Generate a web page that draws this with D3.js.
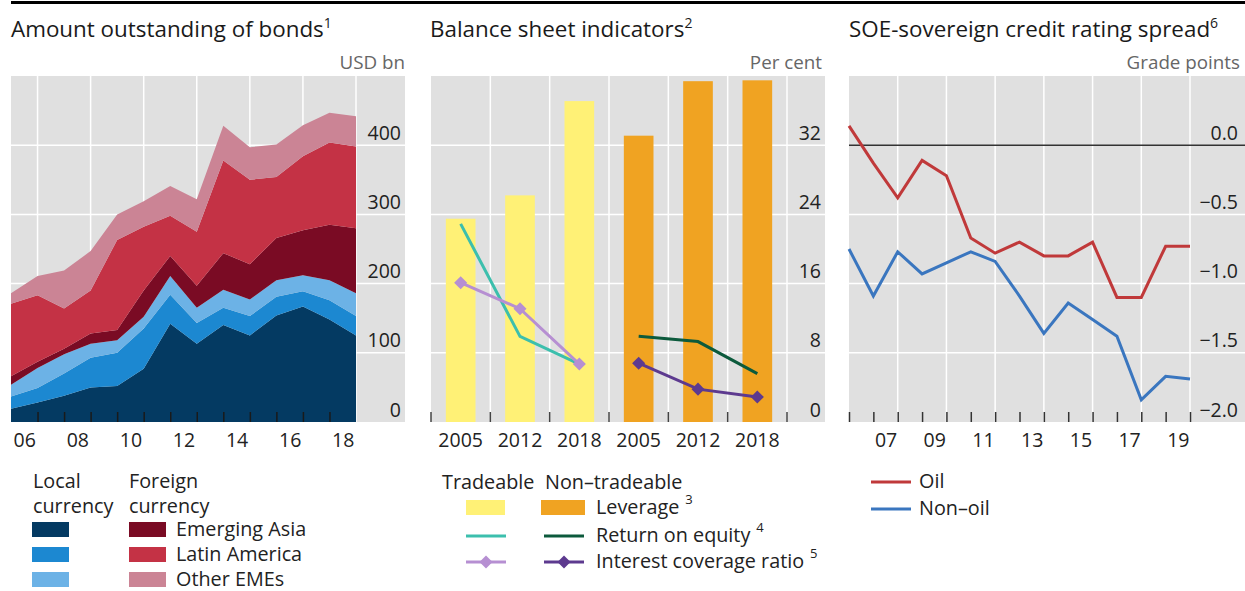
<!DOCTYPE html>
<html>
<head>
<meta charset="utf-8">
<script src="https://cdn.jsdelivr.net/npm/d3@7"></script>
<style>
  body { margin: 0; background: #fff; }
  svg { font-family: "Open Sans", "Noto Sans", sans-serif; }
</style>
</head>
<body>
<div id="chart"></div>
<script>
// ---- panel 1 : amount outstanding of bonds (USD bn), end-of-year points
var bondDates = [2006, 2007, 2008, 2009, 2010, 2011, 2012, 2013, 2014, 2015, 2016, 2017, 2018, 2019];
var localDark  = [19, 28, 38, 50, 52, 77, 142, 113, 140, 125, 154, 167, 148, 125];
var localMid   = [18, 21, 32, 43, 48, 58, 42, 30, 25, 28, 27, 22, 28, 28];
var localLight = [17, 29, 28, 20, 18, 17, 27, 22, 26, 24, 24, 23, 29, 33];
var emAsia     = [12, 9, 8, 15, 15, 38, 29, 32, 53, 51, 61, 65, 80, 94];
var latAm      = [105, 96, 58, 62, 130, 92, 58, 78, 134, 122, 88, 107, 119, 118];
var otherEME   = [15, 28, 55, 57, 37, 37, 43, 47, 50, 47, 47, 45, 43, 44];
var bondLabelPos = [2006.5, 2008.5, 2010.5, 2012.5, 2014.5, 2016.5, 2018.5];
var bondLabels = ["06", "08", "10", "12", "14", "16", "18"];
var bondYTicks = [0, 100, 200, 300, 400];

// ---- panel 2 : balance sheet indicators (per cent)
var bsKeys = ["t2005", "t2012", "t2018", "n2005", "n2012", "n2018"];
var bsLabels = ["2005", "2012", "2018", "2005", "2012", "2018"];
var tradLeverage = [23.5, 26.2, 37.1];
var nonTradLeverage = [33.1, 39.4, 39.5];
var tradROE = [22.9, 9.9, 6.7];
var nonTradROE = [9.9, 9.3, 5.6];
var tradICR = [16.1, 13.1, 6.7];
var nonTradICR = [6.8, 3.8, 2.9];
var bsYTicks = [0, 8, 16, 24, 32];

// ---- panel 3 : SOE-sovereign credit rating spread (grade points)
var spreadDates = [2006, 2007, 2008, 2009, 2010, 2011, 2012, 2013, 2014, 2015, 2016, 2017, 2018, 2019, 2020];
var oil    = [0.14, -0.13, -0.38, -0.11, -0.22, -0.67, -0.78, -0.70, -0.80, -0.80, -0.70, -1.10, -1.10, -0.73, -0.73];
var nonOil = [-0.75, -1.09, -0.77, -0.93, -0.85, -0.77, -0.84, -1.09, -1.36, -1.14, -1.26, -1.38, -1.84, -1.67, -1.69];
var spreadLabelPos = [2007.5, 2009.5, 2011.5, 2013.5, 2015.5, 2017.5, 2019.5];
var spreadLabels = ["07", "09", "11", "13", "15", "17", "19"];
var spreadYTicks = [0, -0.5, -1, -1.5, -2];

var W = 1245, H = 591;
var TOP = 76, BOTTOM = 422;
var BG = "#e0e0e0";
var TEXT = "#222";
var LEG_SIZE = 19.8;

var svg = d3.select("#chart").append("svg")
    .attr("width", W)
    .attr("height", H);

svg.append("line")
    .attr("x1", 11).attr("x2", W)
    .attr("y1", 2.5).attr("y2", 2.5)
    .attr("stroke", "#000")
    .attr("stroke-width", 3);

function title(x, txt, sup) {
  var t = svg.append("text")
      .attr("x", x).attr("y", 37)
      .attr("font-size", 22.4)
      .attr("fill", "#1a1a1a")
      .text(txt);
  t.append("tspan").attr("font-size", 14).attr("dy", -9).text(sup);
}

function units(x, txt) {
  svg.append("text")
      .attr("x", x).attr("y", 69)
      .attr("text-anchor", "end")
      .attr("font-size", 18.8)
      .attr("fill", "#666")
      .text(txt);
}

function background(x0, x1) {
  svg.append("rect")
      .attr("x", x0).attr("y", TOP)
      .attr("width", x1 - x0).attr("height", BOTTOM - TOP)
      .attr("fill", BG);
}

function hGrid(x0, x1, ys) {
  svg.append("g").selectAll("line")
    .data(ys)
    .enter().append("line")
      .attr("x1", x0).attr("x2", x1)
      .attr("y1", function(d) { return d; })
      .attr("y2", function(d) { return d; })
      .attr("stroke", "#fff")
      .attr("stroke-width", 1.5);
}

function vGrid(xs) {
  svg.append("g").selectAll("line")
    .data(xs)
    .enter().append("line")
      .attr("x1", function(d) { return d; })
      .attr("x2", function(d) { return d; })
      .attr("y1", TOP).attr("y2", BOTTOM)
      .attr("stroke", "#fff")
      .attr("stroke-width", 1.5);
}

function styleAxis(g, size) {
  g.attr("font-family", null).attr("font-size", size);
  g.select(".domain").remove();
  g.selectAll("text").attr("fill", TEXT);
}

function yLabels(scale, xRight, ticks, fmt) {
  var g = svg.append("g")
      .attr("transform", "translate(" + xRight + ",0)")
      .call(d3.axisLeft(scale).tickValues(ticks).tickSize(0).tickPadding(0).tickFormat(fmt));
  styleAxis(g, 19.5);
  g.selectAll("text").attr("dy", "-0.3em");
}

function xLabels(scale, pos, labels) {
  var g = svg.append("g")
      .attr("transform", "translate(0," + BOTTOM + ")")
      .call(d3.axisBottom(scale).tickValues(pos).tickSize(0).tickPadding(11)
        .tickFormat(function(d, i) { return labels[i]; }));
  styleAxis(g, 19.5);
}

function xTicks(scale, vals, color) {
  var g = svg.append("g")
      .attr("transform", "translate(0," + BOTTOM + ")")
      .call(d3.axisTop(scale).tickValues(vals).tickSize(10).tickFormat(""));
  g.select(".domain").remove();
  g.selectAll("line").attr("stroke", color).attr("stroke-width", 1.5);
}

// ================= panel 1 =================
title(11, "Amount outstanding of bonds", "1");
units(405, "USD bn");
background(11, 405);

var x1 = d3.scaleLinear().domain([2006, 2019]).range([11, 356]);
var y1 = d3.scaleLinear().domain([0, 500]).range([BOTTOM, TOP]);

hGrid(11, 405, [100, 200, 300, 400].map(y1));
vGrid([2007, 2009, 2011, 2013, 2015, 2017, 2019].map(x1));

var bondKeys = ["localDark", "localMid", "localLight", "emAsia", "latAm", "otherEME"];
var bondColors = ["#043a62", "#1c88d1", "#6cb2e6", "#7a0b24", "#c43245", "#cb8495"];
var bondSeries = [localDark, localMid, localLight, emAsia, latAm, otherEME];
var bondRows = bondDates.map(function(d, i) {
  var r = {date: d};
  bondKeys.forEach(function(k, j) { r[k] = bondSeries[j][i]; });
  return r;
});
var stacked = d3.stack().keys(bondKeys)(bondRows);
var area = d3.area()
    .x(function(d) { return x1(d.data.date); })
    .y0(function(d) { return y1(d[0]); })
    .y1(function(d) { return y1(d[1]); });

svg.append("g").selectAll("path")
  .data(stacked)
  .enter().append("path")
    .attr("d", area)
    .attr("fill", function(d, i) { return bondColors[i]; });

xTicks(x1, [2007, 2008, 2009, 2010, 2011, 2012, 2013, 2014, 2015, 2016, 2017, 2018], "#1a1a1a");
xLabels(x1, bondLabelPos, bondLabels);
yLabels(y1, 401, bondYTicks, d3.format("d"));

// ================= panel 2 =================
title(430, "Balance sheet indicators", "2");
units(822, "Per cent");
background(431, 825);

var xb = d3.scaleBand().domain(bsKeys).range([431, 787]);
var y2 = d3.scaleLinear().domain([0, 40]).range([BOTTOM, TOP]);
var bw = xb.bandwidth();
var boundaries = bsKeys.map(function(k) { return xb(k); }).concat([787]);

hGrid(431, 825, [8, 16, 24, 32].map(y2));
vGrid(boundaries.slice(1));

var leverage = tradLeverage.concat(nonTradLeverage);
var barColors = ["#fff176", "#fff176", "#fff176", "#f0a322", "#f0a322", "#f0a322"];
svg.append("g").selectAll("rect")
  .data(bsKeys)
  .enter().append("rect")
    .attr("x", function(k) { return xb(k) + bw / 4; })
    .attr("width", bw / 2)
    .attr("y", function(k, i) { return y2(leverage[i]); })
    .attr("height", function(k, i) { return BOTTOM - y2(leverage[i]); })
    .attr("fill", function(k, i) { return barColors[i]; });

var bsLine = d3.line()
    .x(function(d) { return xb(d.key) + bw / 2; })
    .y(function(d) { return y2(d.v); });

function pts(keys, vals) {
  return keys.map(function(k, i) { return {key: k, v: vals[i]}; });
}

var tKeys = bsKeys.slice(0, 3), nKeys = bsKeys.slice(3);
var bsLines = [
  {data: pts(tKeys, tradROE), color: "#3cbfad", marker: false},
  {data: pts(tKeys, tradICR), color: "#b68fd2", marker: true},
  {data: pts(nKeys, nonTradROE), color: "#0c5a3c", marker: false},
  {data: pts(nKeys, nonTradICR), color: "#5d3a8f", marker: true}
];
var diamond = d3.symbol().type(d3.symbolSquare).size(85);

bsLines.forEach(function(s) {
  svg.append("path")
      .attr("d", bsLine(s.data))
      .attr("fill", "none")
      .attr("stroke", s.color)
      .attr("stroke-width", 3);
  if (s.marker) {
    svg.append("g").selectAll("path")
      .data(s.data)
      .enter().append("path")
        .attr("d", diamond)
        .attr("transform", function(d) {
          return "translate(" + (xb(d.key) + bw / 2) + "," + y2(d.v) + ") rotate(45)";
        })
        .attr("fill", s.color);
  }
});

svg.append("g").selectAll("line")
  .data(boundaries)
  .enter().append("line")
    .attr("x1", function(d) { return d; })
    .attr("x2", function(d) { return d; })
    .attr("y1", BOTTOM - 10).attr("y2", BOTTOM)
    .attr("stroke", "#444")
    .attr("stroke-width", 1.5);

var gx2 = svg.append("g")
    .attr("transform", "translate(0," + BOTTOM + ")")
    .call(d3.axisBottom(xb).tickSize(0).tickPadding(11)
      .tickFormat(function(d, i) { return bsLabels[i]; }));
styleAxis(gx2, 19.5);
yLabels(y2, 821, bsYTicks, d3.format("d"));

// ================= panel 3 =================
title(849, "SOE-sovereign credit rating spread", "6");
units(1240, "Grade points");
background(849, 1245);

var x3 = d3.scaleLinear().domain([2006, 2020]).range([849, 1190]);
var y3 = d3.scaleLinear().domain([-2, 0.5]).range([BOTTOM, TOP]);

hGrid(849, 1245, [-0.5, -1, -1.5].map(y3));
vGrid([2008, 2010, 2012, 2014, 2016, 2018, 2020].map(x3));

svg.append("line")
    .attr("x1", 849).attr("x2", 1245)
    .attr("y1", y3(0)).attr("y2", y3(0))
    .attr("stroke", "#333")
    .attr("stroke-width", 1.5);

var spreadLine = d3.line()
    .x(function(d, i) { return x3(spreadDates[i]); })
    .y(function(d) { return y3(d); });

[[oil, "#c0393a"], [nonOil, "#3a76bf"]].forEach(function(s) {
  svg.append("path")
      .attr("d", spreadLine(s[0]))
      .attr("fill", "none")
      .attr("stroke", s[1])
      .attr("stroke-width", 3)
      .attr("stroke-linejoin", "miter");
});

xTicks(x3, spreadDates, "#333");
xLabels(x3, spreadLabelPos, spreadLabels);
yLabels(y3, 1238, spreadYTicks, d3.format(".1f"));

// ================= legends =================
function legText(x, y, txt, sup) {
  var t = svg.append("text")
      .attr("x", x).attr("y", y)
      .attr("font-size", LEG_SIZE)
      .attr("fill", TEXT)
      .text(txt);
  if (sup) {
    t.append("tspan").attr("font-size", 13).attr("dx", 6).attr("dy", -10).text(sup);
  }
}
function swatch(x, y, w, h, color) {
  svg.append("rect").attr("x", x).attr("y", y).attr("width", w).attr("height", h).attr("fill", color);
}
function legLine(x, y, color, markerColor) {
  svg.append("line")
      .attr("x1", x).attr("x2", x + 40)
      .attr("y1", y).attr("y2", y)
      .attr("stroke", color)
      .attr("stroke-width", 3);
  if (markerColor) {
    svg.append("path")
        .attr("d", diamond)
        .attr("transform", "translate(" + (x + 20) + "," + y + ") rotate(45)")
        .attr("fill", markerColor);
  }
}

// panel 1 legend
legText(33, 488, "Local");
legText(33, 513, "currency");
legText(129, 488, "Foreign");
legText(129, 513, "currency");
[0, 1, 2].forEach(function(i) {
  swatch(32, 522 + i * 25, 37, 15, bondColors[i]);
  swatch(129, 522 + i * 25, 37, 15, bondColors[i + 3]);
});
legText(176, 536, "Emerging Asia");
legText(176, 561, "Latin America");
legText(176, 586, "Other EMEs");

// panel 2 legend
legText(442, 489, "Tradeable");
legText(545, 489, "Non\u2013tradeable");
swatch(466, 500, 39, 15, "#fff176");
swatch(541, 500, 44, 15, "#f0a322");
legText(596, 514, "Leverage", "3");
legLine(466, 536, "#3cbfad");
legLine(544, 536, "#0c5a3c");
legText(596, 542, "Return on equity", "4");
legLine(466, 562, "#b68fd2", "#b68fd2");
legLine(544, 562, "#5d3a8f", "#5d3a8f");
legText(596, 568, "Interest coverage ratio", "5");

// panel 3 legend
legLine(871, 482, "#c0393a");
legLine(871, 509, "#3a76bf");
legText(919, 488, "Oil");
legText(919, 515, "Non\u2013oil");
</script>
</body>
</html>
